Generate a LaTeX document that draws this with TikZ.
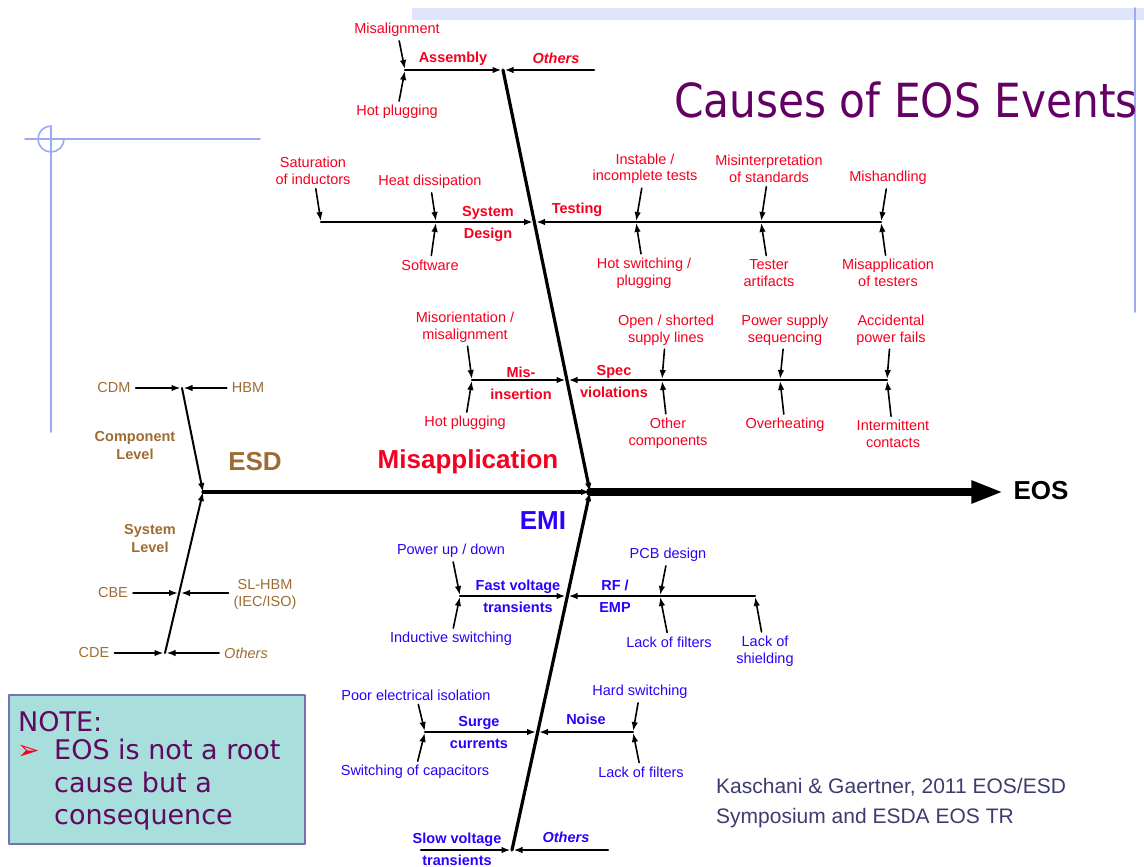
\documentclass[tikz,border=0pt]{standalone}
\usepackage{fontspec}
\setmainfont{Liberation Sans}
\newfontfamily\titlefont[FakeStretch=0.9]{DejaVu Sans}
\newfontfamily\notefont{DejaVu Sans}
\usetikzlibrary{arrows}
\usetikzlibrary{arrows.meta,calc}
\definecolor{fishred}{RGB}{245,0,30}
\definecolor{fishblue}{RGB}{45,0,250}
\definecolor{fishbrown}{RGB}{158,108,50}
\definecolor{titlepurple}{RGB}{100,0,100}
\definecolor{notepurple}{RGB}{95,10,95}
\definecolor{notefill}{RGB}{168,222,220}
\definecolor{noteline}{RGB}{115,115,180}
\definecolor{slideblue}{RGB}{155,170,245}
\definecolor{bandblue}{RGB}{222,228,250}
\definecolor{citeblue}{RGB}{60,60,110}

\begin{document}
\begin{tikzpicture}[line cap=round,line join=round,>={Latex[length=9pt,width=6.5pt]},x=1pt,y=-1pt,
    lbl/.style={inner sep=0pt,align=center,font=\fontsize{14.5}{16.5}\selectfont},
    cat/.style={inner sep=0pt,align=center,font=\fontsize{14.5}{22}\selectfont\bfseries},
    catit/.style={inner sep=0pt,font=\fontsize{14.5}{22}\selectfont\bfseries\itshape},
    big/.style={inner sep=0pt,font=\fontsize{26}{28}\selectfont\bfseries},
    bone/.style={line width=3.2pt,->},
    branch/.style={line width=2.2pt,->,shorten >=1.5pt},
    cause/.style={line width=1.6pt,->,shorten <=4pt,shorten >=1pt},
    esdarrow/.style={line width=1.7pt,->,shorten <=5pt,shorten >=1.5pt},
    deco/.style={slideblue,line width=1.6pt},
    notetxt/.style={inner sep=0pt,text=notepurple,font=\notefont\fontsize{27}{32.5}\selectfont}]
    \useasboundingbox (0,0) rectangle (1144,867);
    \fill[bandblue] (412,8) rectangle (1144,20);
    \draw[deco] (1135,8) -- (1135,312);
    \draw[deco] (25,139) -- (260,139);
    \draw[deco] (51,126) -- (51,432);
    \draw[deco] (64,139) arc[start angle=0,end angle=270,radius=13];
    \node[inner sep=0pt,text=titlepurple,font=\titlefont\fontsize{47}{50}\selectfont] (title) at (906,100) {Causes of EOS Events};

    \coordinate (eosJ) at (590,492);
    \coordinate (asmJ) at (503,70);
    \coordinate (sdJ) at (534.5,222);
    \coordinate (miJ) at (567,380);
    \coordinate (slowJ) at (512,850);
    \coordinate (fvJ) at (567,596);
    \coordinate (surJ) at (537.5,732);
    \coordinate (esdJ) at (203,492);
    \coordinate (compJ) at (182,388);
    \coordinate (cbeJ) at (179.5,593);
    \coordinate (cdeJ) at (165,653);

    \draw[bone] (asmJ) -- (eosJ);
    \draw[bone] (slowJ) -- (eosJ);
    \draw[bone] (esdJ) -- (eosJ);
    \draw[line width=2pt,->] (compJ) -- (esdJ);
    \draw[line width=2pt,->] (cdeJ) -- (esdJ);
    \node[big] (eos) at (1041,491) {EOS};
    \draw[line width=8pt,-{Triangle[length=32pt,width=21pt]},shorten >=10pt] (eosJ) -- (eos.west |- eosJ);
    \node[big,text=fishbrown] (esd) at (255,462) {ESD};
    \node[big,text=fishred] (misapp) at (468,462) {Misapplication};
    \node[big,text=fishblue] (emi) at (543,521) {EMI};

    \coordinate (asmL) at (405,70);
    \coordinate (asmR) at (594,70);
    \draw[branch] (asmL) -- (asmJ);
    \draw[branch] (asmR) -- (asmJ);
    \node[cat,text=fishred] (assembly) at (453,59) {Assembly};
    \node[catit,text=fishred] (others1) at (556,58) {Others};
    \node[lbl,text=fishred] (misal1) at (397,30) {Misalignment};
    \node[lbl,text=fishred] (hotplug1) at (397,112) {Hot plugging};
    \draw[cause] (misal1) -- (asmL);
    \draw[cause] (hotplug1) -- (asmL);

    \coordinate (sdL) at (321,222);
    \coordinate (testR) at (881,222);
    \coordinate (heatJ) at (436,222);
    \coordinate (instJ) at (636,222);
    \coordinate (misintJ) at (761,222);
    \draw[branch] (sdL) -- (sdJ);
    \draw[branch] (testR) -- (sdJ);
    \node[cat,text=fishred] (sysdes) at (488,223.5) {System\\Design};
    \node[cat,text=fishred] (testing) at (577,210) {Testing};
    \node[lbl,text=fishred] (satur) at (313,171) {Saturation\\of inductors};
    \node[lbl,text=fishred] (heat) at (430,182) {Heat dissipation};
    \node[lbl,text=fishred] (soft) at (430,265) {Software};
    \node[lbl,text=fishred] (instable) at (645,169) {Instable /\\incomplete tests};
    \node[lbl,text=fishred] (hotsw) at (644,273) {Hot switching /\\plugging};
    \node[lbl,text=fishred] (misint) at (769,169) {Misinterpretation\\of standards};
    \node[lbl,text=fishred] (tester) at (769,273) {Tester\\artifacts};
    \node[lbl,text=fishred] (mishand) at (888,178) {Mishandling};
    \node[lbl,text=fishred] (misapt) at (888,273) {Misapplication\\of testers};
    \draw[cause] (satur) -- (sdL);
    \draw[cause] (heat) -- (heatJ);
    \draw[cause] (soft) -- (heatJ);
    \draw[cause] (instable) -- (instJ);
    \draw[cause] (hotsw) -- (instJ);
    \draw[cause] (misint) -- (misintJ);
    \draw[cause] (tester) -- (misintJ);
    \draw[cause] (mishand) -- (testR);
    \draw[cause] (misapt) -- (testR);

    \coordinate (miL) at (472,380);
    \coordinate (specR) at (887,380);
    \coordinate (openJ) at (662,380);
    \coordinate (powJ) at (780,380);
    \draw[branch] (miL) -- (miJ);
    \draw[branch] (specR) -- (miJ);
    \node[cat,text=fishred] (misins) at (521,383.5) {Mis-\\insertion};
    \node[cat,text=fishred] (spec) at (614,381.5) {Spec\\violations};
    \node[lbl,text=fishred] (misor) at (465,327) {Misorientation /\\misalignment};
    \node[lbl,text=fishred] (hotplug2) at (465,423) {Hot plugging};
    \node[lbl,text=fishred] (openshort) at (666,330) {Open / shorted\\supply lines};
    \node[lbl,text=fishred] (othercomp) at (668,433) {Other\\components};
    \node[lbl,text=fishred] (powsup) at (785,330) {Power supply\\sequencing};
    \node[lbl,text=fishred] (overheat) at (785,425) {Overheating};
    \node[lbl,text=fishred] (accid) at (891,330) {Accidental\\power fails};
    \node[lbl,text=fishred] (intermit) at (893,434) {Intermittent\\contacts};
    \draw[cause] (misor) -- (miL);
    \draw[cause] (hotplug2) -- (miL);
    \draw[cause] (openshort) -- (openJ);
    \draw[cause] (othercomp) -- (openJ);
    \draw[cause] (powsup) -- (powJ);
    \draw[cause] (overheat) -- (powJ);
    \draw[cause] (accid) -- (specR);
    \draw[cause] (intermit) -- (specR);

    \node[lbl,text=fishbrown] (cdm) at (114,388) {CDM};
    \node[lbl,text=fishbrown] (hbm) at (248,388) {HBM};
    \node[cat,text=fishbrown,font=\fontsize{14.5}{18}\selectfont\bfseries] (complev) at (135,446) {Component\\Level};
    \node[cat,text=fishbrown,font=\fontsize{14.5}{18}\selectfont\bfseries] (syslev) at (150,538.5) {System\\Level};
    \node[lbl,text=fishbrown] (cbe) at (113,593) {CBE};
    \node[lbl,text=fishbrown] (slhbm) at (265,594.5) {SL-HBM\\(IEC/ISO)};
    \node[lbl,text=fishbrown] (cde) at (94,653) {CDE};
    \node[lbl,text=fishbrown,font=\fontsize{14.5}{16.5}\selectfont\itshape] (others3) at (246,653) {Others};
    \draw[esdarrow] (cdm) -- (compJ);
    \draw[esdarrow] (hbm) -- (compJ);
    \draw[esdarrow] (cbe) -- (cbeJ);
    \draw[esdarrow] (slhbm.west |- cbeJ) -- (cbeJ);
    \draw[esdarrow] (cde) -- (cdeJ);
    \draw[esdarrow] (others3) -- (cdeJ);

    \coordinate (fvL) at (460,596);
    \coordinate (rfR) at (755,596);
    \coordinate (pcbJ) at (660,596);
    \draw[branch] (fvL) -- (fvJ);
    \draw[branch] (rfR) -- (fvJ);
    \node[cat,text=fishblue] (fastv) at (518,596) {Fast voltage\\transients};
    \node[cat,text=fishblue] (rfemp) at (615,596.5) {RF /\\EMP};
    \node[lbl,text=fishblue] (powud) at (451,551) {Power up / down};
    \node[lbl,text=fishblue] (induct) at (451,639) {Inductive switching};
    \node[lbl,text=fishblue] (pcb) at (668,555) {PCB design};
    \node[lbl,text=fishblue] (lackf1) at (669,642) {Lack of filters};
    \node[lbl,text=fishblue] (lacksh) at (765,651) {Lack of\\shielding};
    \draw[cause] (powud) -- (fvL);
    \draw[cause] (induct) -- (fvL);
    \draw[cause] (pcb) -- (pcbJ);
    \draw[cause] (lackf1) -- (pcbJ);
    \draw[cause] (lacksh) -- (rfR);

    \coordinate (surL) at (425,732);
    \coordinate (noiseR) at (633,732);
    \draw[branch] (surL) -- (surJ);
    \draw[branch] (noiseR) -- (surJ);
    \node[cat,text=fishblue] (surge) at (479,732.5) {Surge\\currents};
    \node[cat,text=fishblue] (noise) at (586,719) {Noise};
    \node[lbl,text=fishblue] (poor) at (416,695) {Poor electrical isolation};
    \node[lbl,text=fishblue] (swcap) at (415,772) {Switching of capacitors};
    \node[lbl,text=fishblue] (hardsw) at (640,692) {Hard switching};
    \node[lbl,text=fishblue] (lackf2) at (641,772) {Lack of filters};
    \draw[cause] (poor) -- (surL);
    \draw[cause] (swcap) -- (surL);
    \draw[cause] (hardsw) -- (noiseR);
    \draw[cause] (lackf2) -- (noiseR);

    \coordinate (slowL) at (421,850);
    \coordinate (othR2) at (608,850);
    \draw[branch] (slowL) -- (slowJ);
    \draw[branch] (othR2) -- (slowJ);
    \node[cat,text=fishblue] (slowv) at (457,849) {Slow voltage\\transients};
    \node[catit,text=fishblue] (others2) at (566,837) {Others};

    \node[draw=noteline,line width=1.5pt,fill=notefill,minimum width=296pt,minimum height=149pt,anchor=north west] (notebox) at (8,694) {};
    \node[notetxt,anchor=west] (notehead) at (18,722) {NOTE:};
    \node[notetxt,text=fishred,anchor=west] (bullet) at (17,752) {➢};
    \node[notetxt,anchor=west,align=left] (notebody) at (54,785) {EOS is not a root\\cause but a\\consequence};
    \node[anchor=west,align=left,inner sep=0pt,text=citeblue,font=\fontsize{21}{30}\selectfont] (cite) at (716,803) {Kaschani \& Gaertner, 2011 EOS/ESD\\Symposium and ESDA EOS TR};
\end{tikzpicture}
\end{document}
